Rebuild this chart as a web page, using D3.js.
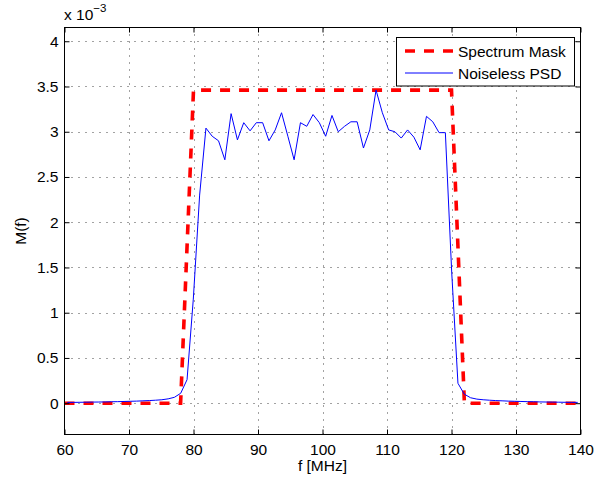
<!DOCTYPE html>
<html lang="en">
<head>
    <meta charset="UTF-8">
    <title>Spectrum Mask vs Noiseless PSD</title>
    <script src="https://d3js.org/d3.v7.min.js"></script>
    <style>
        body { margin: 0; background: #fff; }
        svg { display: block; font-family: "Liberation Sans", Arial, sans-serif; }
    </style>
</head>
<body>
    <svg width="606" height="479"></svg>
    <script>
        // Data (M(f) values are in units of 1e-3)
        const maskFreq = [60, 78, 80, 120, 122, 140];
        const maskMilli = [0, 0, 3.46, 3.46, 0, 0];

        const psdFreq = [
            60.43, 61.41, 62.39, 63.37, 64.34, 65.32, 66.30, 67.27, 68.25, 69.23,
            70.20, 71.18, 72.16, 73.14, 74.11, 75.09, 76.07, 77.04, 78.02, 79.00,
            79.97, 80.95, 81.93, 82.90, 83.88, 84.86, 85.83, 86.81, 87.79, 88.77,
            89.74, 90.72, 91.70, 92.67, 93.65, 94.63, 95.60, 96.58, 97.56, 98.53,
            99.51, 100.49, 101.47, 102.44, 103.42, 104.40, 105.37, 106.35, 107.33, 108.30,
            109.28, 110.26, 111.23, 112.21, 113.19, 114.17, 115.14, 116.12, 117.10, 118.07,
            119.05, 120.03, 121.00, 121.98, 122.96, 123.93, 124.91, 125.89, 126.86, 127.84,
            128.82, 129.80, 130.77, 131.75, 132.73, 133.70, 134.68, 135.66, 136.63, 137.61,
            138.59, 139.57
        ];
        const psdMilli = [
            0.009, 0.009, 0.010, 0.011, 0.012, 0.013, 0.014, 0.016, 0.017, 0.019,
            0.021, 0.023, 0.026, 0.029, 0.033, 0.038, 0.048, 0.065, 0.11, 0.26,
            1.15, 2.3, 3.04, 2.95, 2.90, 2.69, 3.20, 2.91, 3.10, 3.01,
            3.10, 3.10, 2.90, 3.02, 3.21, 2.95, 2.69, 3.10, 3.06, 3.19,
            3.10, 2.95, 3.18, 3.00, 3.06, 3.11, 3.11, 2.82, 3.02, 3.46,
            3.21, 3.02, 3.00, 2.93, 3.02, 2.94, 2.80, 3.17, 3.11, 2.99,
            2.99, 1.45, 0.22, 0.10, 0.06, 0.045, 0.038, 0.033, 0.029, 0.026,
            0.023, 0.021, 0.019, 0.017, 0.016, 0.014, 0.013, 0.012, 0.011, 0.010,
            0.009, 0.009
        ];

        const xTicks = [60, 70, 80, 90, 100, 110, 120, 130, 140];
        const yTicks = [0, 0.5, 1, 1.5, 2, 2.5, 3, 3.5, 4];
        const legendLabels = ["Spectrum Mask", "Noiseless PSD"];

        // Layout
        const plotL = 64.5, plotR = 580.5, plotT = 27.5, plotB = 434.5;
        const fs = 15.5;
        const svg = d3.select("svg");

        const x = d3.scaleLinear().domain([60, 140]).range([plotL, plotR]);
        const y = d3.scaleLinear().domain([-0.346, 4.152]).range([plotB, plotT]);

        // Grid (dotted)
        const grid = svg.append("g")
            .attr("stroke", "#444")
            .attr("stroke-width", 1)
            .attr("stroke-dasharray", "1,6");
        grid.selectAll(".gx")
            .data(xTicks.filter(d => d > 60 && d < 140))
            .enter().append("line")
            .attr("x1", d => Math.round(x(d)) + 0.5).attr("x2", d => Math.round(x(d)) + 0.5)
            .attr("y1", plotB).attr("y2", plotT);
        grid.selectAll(".gy")
            .data(yTicks)
            .enter().append("line")
            .attr("y1", d => Math.round(y(d)) + 0.5).attr("y2", d => Math.round(y(d)) + 0.5)
            .attr("x1", plotL).attr("x2", plotR);

        // Lines
        const line = d3.line().x(d => x(d[0])).y(d => y(d[1]));

        svg.append("path")
            .datum(maskFreq.map((f, i) => [f, maskMilli[i]]))
            .attr("d", line)
            .attr("fill", "none")
            .attr("stroke", "#ff0000")
            .attr("stroke-width", 3.6)
            .attr("stroke-dasharray", "10,9");

        svg.append("path")
            .datum(psdFreq.map((f, i) => [f, psdMilli[i]]))
            .attr("d", line)
            .attr("fill", "none")
            .attr("stroke", "#0000ff")
            .attr("stroke-width", 1);

        // Axes with inward ticks on all four sides
        const fmt = d3.format("~g");
        const axB = svg.append("g").attr("transform", `translate(0,${plotB})`)
            .call(d3.axisBottom(x).tickValues(xTicks).tickFormat(fmt).tickSizeInner(-5).tickSizeOuter(0).tickPadding(9));
        const axL = svg.append("g").attr("transform", `translate(${plotL},0)`)
            .call(d3.axisLeft(y).tickValues(yTicks).tickFormat(fmt).tickSizeInner(-5).tickSizeOuter(0).tickPadding(6));
        const axT = svg.append("g").attr("transform", `translate(0,${plotT})`)
            .call(d3.axisTop(x).tickValues(xTicks).tickFormat("").tickSizeInner(-5).tickSizeOuter(0));
        const axR = svg.append("g").attr("transform", `translate(${plotR},0)`)
            .call(d3.axisRight(y).tickValues(yTicks).tickFormat("").tickSizeInner(-5).tickSizeOuter(0));

        [axB, axL, axT, axR].forEach(g => {
            g.select(".domain").remove();
            g.selectAll("text").attr("font-size", fs).attr("font-family", "Liberation Sans, Arial, sans-serif").attr("fill", "#000");
        });

        svg.append("rect")
            .attr("x", plotL).attr("y", plotT)
            .attr("width", plotR - plotL).attr("height", plotB - plotT)
            .attr("fill", "none").attr("stroke", "#000").attr("stroke-width", 1);

        // Exponent label
        const expo = svg.append("text").attr("x", 64).attr("y", 20).attr("font-size", fs);
        expo.append("tspan").text("x 10");
        expo.append("tspan").attr("font-size", 11.5).attr("dy", -8).text("\u22123");

        // Axis labels
        svg.append("text")
            .attr("x", (plotL + plotR) / 2).attr("y", 471)
            .attr("text-anchor", "middle").attr("font-size", fs)
            .text("f [MHz]");
        svg.append("text")
            .attr("transform", `translate(25.5,${(plotT + plotB) / 2}) rotate(-90)`)
            .attr("text-anchor", "middle").attr("font-size", fs)
            .text("M(f)");

        // Legend
        const lg = svg.append("g");
        lg.append("rect")
            .attr("x", 396.5).attr("y", 37.5).attr("width", 178).attr("height", 48.5)
            .attr("fill", "#fff").attr("stroke", "#000").attr("stroke-width", 1);
        const legendStyles = [
            { stroke: "#ff0000", width: 3.6, dash: "10,9" },
            { stroke: "#0000ff", width: 1, dash: null }
        ];
        legendLabels.forEach((lab, i) => {
            const ly = 51 + i * 22;
            lg.append("line")
                .attr("x1", 405).attr("x2", 453).attr("y1", ly).attr("y2", ly)
                .attr("stroke", legendStyles[i].stroke)
                .attr("stroke-width", legendStyles[i].width)
                .attr("stroke-dasharray", legendStyles[i].dash);
            lg.append("text")
                .attr("x", 458).attr("y", ly + 5.5)
                .attr("font-size", fs)
                .text(lab);
        });
    </script>
</body>
</html>
